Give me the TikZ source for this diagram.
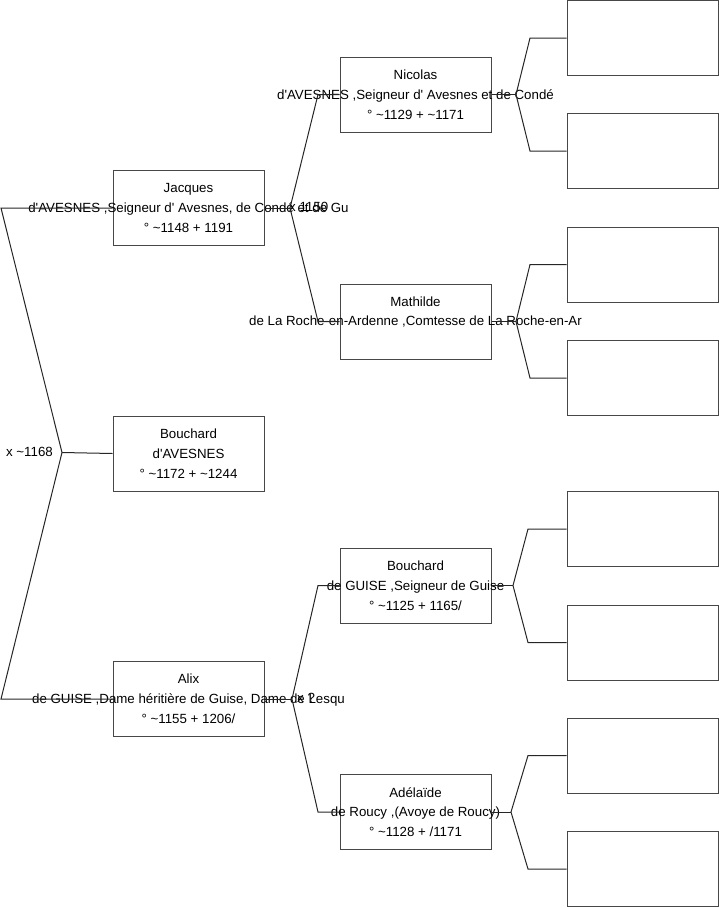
\documentclass[tikz,border=0pt]{standalone}
\usepackage{fontspec}
\setmainfont{Liberation Sans}[Ligatures=TeXOff]
\begin{document}
\begin{tikzpicture}[x=1pt,y=-1pt,
  box/.style={draw=black!72, line width=1pt, minimum width=151pt, minimum height=75pt, inner sep=0pt},
  txt/.style={align=center, font=\fontsize{13.3}{19.8}\selectfont, inner sep=0pt, text=black},
  lbl/.style={font=\fontsize{13.3}{15}\selectfont, inner sep=0pt, text=black},
  link/.style={draw=black!85, line width=1pt}]
\useasboundingbox (0,0) rectangle (719,908);

% generation 1
\node[box] (jac) at (188.5,208) {};
\node[box] (bou) at (188.5,453.5) {};
\node[box] (ali) at (188.5,699) {};
% generation 2
\node[box] (nic) at (415.5,94.5) {};
\node[box] (mat) at (415.5,321.5) {};
\node[box] (bgu) at (415.5,585.5) {};
\node[box] (ade) at (415.5,812) {};
% generation 3 (empty)
\node[box] (e1) at (642.5,38) {};
\node[box] (e2) at (642.5,151) {};
\node[box] (e3) at (642.5,264.5) {};
\node[box] (e4) at (642.5,378) {};
\node[box] (e5) at (642.5,529) {};
\node[box] (e6) at (642.5,642.5) {};
\node[box] (e7) at (642.5,755.5) {};
\node[box] (e8) at (642.5,869) {};

% texts
\node[txt] (tjac) at (jac.center) {Jacques\\d'AVESNES ,Seigneur d' Avesnes, de Condé et de Gu\\° \textasciitilde1148 + 1191};
\node[txt] (tbou) at (bou.center) {Bouchard\\d'AVESNES\\° \textasciitilde1172 + \textasciitilde1244};
\node[txt] (tali) at (ali.center) {Alix\\de GUISE ,Dame héritière de Guise, Dame de Lesqu\\° \textasciitilde1155 + 1206/};
\node[txt] (tnic) at (nic.center) {Nicolas\\d'AVESNES ,Seigneur d' Avesnes et de Condé\\° \textasciitilde1129 + \textasciitilde1171};
\node[txt] (tmat) at ([yshift=-2.5pt]mat.center) {Mathilde\\de La Roche-en-Ardenne ,Comtesse de La Roche-en-Ar\\\strut};
\node[txt] (tbgu) at (bgu.center) {Bouchard\\de GUISE ,Seigneur de Guise\\° \textasciitilde1125 + 1165/};
\node[txt] (tade) at (ade.center) {Adélaïde\\de Roucy ,(Avoye de Roucy)\\° \textasciitilde1128 + /1171};

% marriage labels
\node[lbl, anchor=east] (m0) at (53,452) {x \textasciitilde1168};
\node[lbl, anchor=west] (m1) at (289,207) {x 1150};
\node[lbl, anchor=west] (m2) at (297,698) {x ?};

% fork coordinates
\coordinate (v0) at (62,452.5);
\coordinate (a0) at (1,208);
\coordinate (b0) at (1,699);
\coordinate (v1) at (290,208);
\coordinate (a1) at (318,94.5);
\coordinate (b1) at (318,321.5);
\coordinate (v2) at (292,699);
\coordinate (a2) at (318,585.5);
\coordinate (b2) at (318,812);
\coordinate (vn) at (516,94.5);
\coordinate (an) at (530,38);
\coordinate (bn) at (530,151);
\coordinate (vm) at (516,321.5);
\coordinate (am) at (530,264.5);
\coordinate (bm) at (530,378);
\coordinate (vg) at (513,585.5);
\coordinate (ag) at (528,529);
\coordinate (bg) at (528,642.5);
\coordinate (va) at (511,812);
\coordinate (aa) at (528,755.5);
\coordinate (ba) at (528,869);

% connectors
\draw[link] (bou.west) -- (v0);
\draw[link] (jac.west) -- (a0) -- (v0) -- (b0) -- (ali.west);
\draw[link] (jac.east) -- (v1);
\draw[link] (nic.west) -- (a1) -- (v1) -- (b1) -- (mat.west);
\draw[link] (ali.east) -- (v2);
\draw[link] (bgu.west) -- (a2) -- (v2) -- (b2) -- (ade.west);
\draw[link] (nic.east) -- (vn);
\draw[link] (e1.west) -- (an) -- (vn) -- (bn) -- (e2.west);
\draw[link] (mat.east) -- (vm);
\draw[link] (e3.west) -- (am) -- (vm) -- (bm) -- (e4.west);
\draw[link] (bgu.east) -- (vg);
\draw[link] (e5.west) -- (ag) -- (vg) -- (bg) -- (e6.west);
\draw[link] (ade.east) -- (va);
\draw[link] (e7.west) -- (aa) -- (va) -- (ba) -- (e8.west);
\end{tikzpicture}
\end{document}
